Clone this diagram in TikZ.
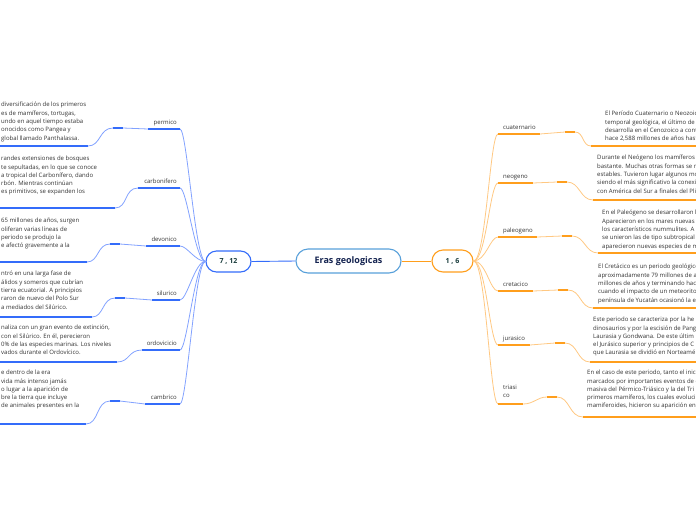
\documentclass[tikz,border=0pt]{standalone}
\usepackage{fontspec}
\setmainfont{Open Sans}
\usetikzlibrary{positioning,shapes.misc,calc}

\definecolor{bluebar}{RGB}{52,108,250}
\definecolor{bluetwig}{RGB}{130,162,255}
\definecolor{orangebar}{RGB}{255,158,28}
\definecolor{orangetwig}{RGB}{255,200,130}
\definecolor{rootline}{RGB}{88,160,218}
\definecolor{inktext}{RGB}{50,50,50}

\begin{document}
\begin{tikzpicture}[x=1pt,y=-1pt,
    era/.style={rounded rectangle, draw, line width=1.1pt, fill=white, inner sep=0pt},
    lbl/.style={font=\fontsize{6}{8}\selectfont, text=inktext, inner sep=0pt},
    txt/.style={font=\fontsize{6}{8.3}\selectfont, text=inktext, align=left, inner sep=0pt, anchor=north west},
    twigB/.style={draw=bluetwig, line width=0.8pt},
    barB/.style={draw=bluebar, line width=1.6pt},
    twigO/.style={draw=orangetwig, line width=0.8pt},
    barO/.style={draw=orangebar, line width=1.6pt}]
  \useasboundingbox (0,0) rectangle (696,520);
  \clip (0,0) rectangle (696,520);

  % the three central nodes
  \node[era, draw=rootline, minimum width=105, minimum height=24,
        font=\fontsize{9}{10}\selectfont\bfseries, text={rgb,255:red,20;green,35;blue,80}]
        (root) at (348.5,261) {Eras geologicas};
  \node[era, draw=bluebar, minimum width=45, minimum height=21,
        font=\fontsize{7}{8}\selectfont\bfseries, text={rgb,255:red,25;green,60;blue,60}]
        (l712) at (228.5,261.5) {7 , 12};
  \node[era, draw=orangebar, minimum width=41, minimum height=22,
        font=\fontsize{7}{8}\selectfont\bfseries, text={rgb,255:red,25;green,60;blue,60}]
        (r16) at (452.5,261) {1 , 6};
  \draw[bluebar, line width=0.9pt] (root.west) -- (l712.east);
  \draw[orangebar, line width=0.9pt] (root.east) -- (r16.east -| r16.west);

  % ---------------- left side ----------------
  % permico
  \coordinate (pe1) at (148,129); \coordinate (pe2) at (180,129);
  \coordinate (pe3) at (123,128); \coordinate (pe4) at (113,128);
  \coordinate (pe5) at (88,146);
  \node[lbl, anchor=base east] (permico) at (177,124) {permico};
  \draw[twigB] (l712.west) .. controls (195,261) and (187,129) .. (pe2);
  \draw[barB] (pe1) -- (pe2);
  \draw[twigB] (pe1) -- (pe3) -- (pe4) .. controls (99,128) and (101,146) .. (pe5);
  \draw[barB] (pe3) -- (pe4);
  \draw[barB] (pe5) -- (-5,146);
  \node[txt] (permicotxt) at (1,102) {diversificación de los primeros\\
    es de mamíferos, tortugas,\\ undo en aquel tiempo estaba\\
    onocidos como Pangea y\\ global llamado Panthalassa.};

  % carbonifero
  \coordinate (ca1) at (138,188); \coordinate (ca2) at (180,188);
  \coordinate (ca5) at (115,208);
  \node[lbl, anchor=base east] (carbonifero) at (177,183) {carbonifero};
  \draw[twigB] (l712.west) .. controls (195,261) and (187,188) .. (ca2);
  \draw[barB] (ca1) -- (ca2);
  \draw[twigB] (ca1) .. controls (124,188) and (128,208) .. (ca5);
  \draw[barB] (ca5) -- (-5,208);
  \node[txt] (carbonifetxt) at (1,156) {randes extensiones de bosques\\
    te sepultadas, en lo que se conoce\\ a tropical del Carbonífero, dando\\
    rbón. Mientras continúan\\ es primitivos, se expanden los};

  % devonico
  \coordinate (de1) at (146,246); \coordinate (de2) at (180,246);
  \coordinate (de3) at (120,244); \coordinate (de4) at (110,244);
  \coordinate (de5) at (87,262);
  \node[lbl, anchor=base east] (devonico) at (177,241) {devonico};
  \draw[twigB] (l712.west) .. controls (195,261) and (187,246) .. (de2);
  \draw[barB] (de1) -- (de2);
  \draw[twigB] (de1) -- (de3) -- (de4) .. controls (97,244) and (99,262) .. (de5);
  \draw[barB] (de3) -- (de4);
  \draw[barB] (de5) -- (-5,262);
  \node[txt] (devonicotxt) at (1,218) {65 millones de años, surgen\\
    oliferan varias líneas de\\ periodo se produjo la\\
    e afectó gravemente a la};

  % silurico
  \coordinate (si1) at (152,300); \coordinate (si2) at (180,300);
  \coordinate (si3) at (125,298); \coordinate (si4) at (115,298);
  \coordinate (si5) at (92,317);
  \node[lbl, anchor=base east] (silurico) at (177,295) {silurico};
  \draw[twigB] (l712.west) .. controls (195,261) and (187,300) .. (si2);
  \draw[barB] (si1) -- (si2);
  \draw[twigB] (si1) -- (si3) -- (si4) .. controls (102,298) and (104,317) .. (si5);
  \draw[barB] (si3) -- (si4);
  \draw[barB] (si5) -- (-5,317);
  \node[txt] (siluricotxt) at (1,271) {ntró en una larga fase de\\
    álidos y someros que cubrían\\ tierra ecuatorial. A principios\\
    raron de nuevo del Polo Sur\\ a mediados del Silúrico.};

  % ordovicicio
  \coordinate (or1) at (142,350); \coordinate (or2) at (180,350);
  \coordinate (or5) at (117,362);
  \node[lbl, anchor=base east] (ordovicicio) at (177,345) {ordovicicio};
  \draw[twigB] (l712.west) .. controls (195,261) and (187,350) .. (or2);
  \draw[barB] (or1) -- (or2);
  \draw[twigB] (or1) .. controls (128,350) and (130,362) .. (or5);
  \draw[barB] (or5) -- (-5,362);
  \node[txt] (ordovicitxt) at (1,325) {naliza con un gran evento de extinción,\\
    con el Silúrico. En él, perecieron\\ 0\% de las especies marinas. Los niveles\\
    vados durante el Ordovícico.};

  % cambrico
  \coordinate (cm1) at (145,404); \coordinate (cm2) at (180,404);
  \coordinate (cm3) at (120,401); \coordinate (cm4) at (110,401);
  \coordinate (cm5) at (86,424);
  \node[lbl, anchor=base east] (cambrico) at (177,399) {cambrico};
  \draw[twigB] (l712.west) .. controls (195,261) and (187,404) .. (cm2);
  \draw[barB] (cm1) -- (cm2);
  \draw[twigB] (cm1) -- (cm3) -- (cm4) .. controls (96,401) and (99,424) .. (cm5);
  \draw[barB] (cm3) -- (cm4);
  \draw[barB] (cm5) -- (-5,424);
  \node[txt] (cambricotxt) at (1,370) {e dentro de la era\\
    vida más intenso jamás\\ o lugar a la aparición de\\
    bre la tierra que incluye\\ de animales presentes en la};

  % ---------------- right side ----------------
  % cuaternario
  \coordinate (cu1) at (498,134); \coordinate (cu2) at (540,134);
  \coordinate (cu3) at (565,132); \coordinate (cu4) at (575,132);
  \coordinate (cu5) at (591,146);
  \node[lbl, anchor=base west] (cuaternario) at (503,129) {cuaternario};
  \draw[twigO] (r16.east) .. controls (486,261) and (490,134) .. (cu1);
  \draw[barO] (cu1) -- (cu2);
  \draw[twigO] (cu2) -- (cu3) -- (cu4) .. controls (584,132) and (582,146) .. (cu5);
  \draw[barO] (cu3) -- (cu4);
  \draw[barO] (cu5) -- (700,146);
  \node[txt] (cuaterntxt) at (605,111) {El Período Cuaternario o Neozoico\\
    temporal geológica, el último de\\ desarrolla en el Cenozoico a cont\\
    hace 2,588 millones de años hast};

  % neogeno
  \coordinate (ne1) at (498,183); \coordinate (ne2) at (533,183);
  \coordinate (ne3) at (557,182); \coordinate (ne4) at (567,182);
  \coordinate (ne5) at (593,200);
  \node[lbl, anchor=base west] (neogeno) at (503,178) {neogeno};
  \draw[twigO] (r16.east) .. controls (486,261) and (490,183) .. (ne1);
  \draw[barO] (ne1) -- (ne2);
  \draw[twigO] (ne2) -- (ne3) -- (ne4) .. controls (580,182) and (580,200) .. (ne5);
  \draw[barO] (ne3) -- (ne4);
  \draw[barO] (ne5) -- (700,200);
  \node[txt] (neogenotxt) at (597,155) {Durante el Neógeno los mamíferos\\
    bastante. Muchas otras formas se m\\ estables. Tuvieron lugar algunos mo\\
    siendo el más significativo la conexi\\ con América del Sur a finales del Pli};

  % paleogeno
  \coordinate (pa1) at (498,237); \coordinate (pa2) at (537,237);
  \coordinate (pa3) at (562,236); \coordinate (pa4) at (572,236);
  \coordinate (pa5) at (598,253);
  \node[lbl, anchor=base west] (paleogeno) at (503,232) {paleogeno};
  \draw[twigO] (r16.east) .. controls (486,261) and (490,237) .. (pa1);
  \draw[barO] (pa1) -- (pa2);
  \draw[twigO] (pa2) -- (pa3) -- (pa4) .. controls (585,236) and (585,253) .. (pa5);
  \draw[barO] (pa3) -- (pa4);
  \draw[barO] (pa5) -- (700,253);
  \node[txt] (paleogentxt) at (602,210) {En el Paleógeno se desarrollaron l\\
    Aparecieron en los mares nuevas\\ los característicos nummulites. A l\\
    se unieron las de tipo subtropical y\\ aparecieron nuevas especies de m};

  % cretacico
  \coordinate (cr1) at (498,291); \coordinate (cr2) at (533,291);
  \coordinate (cr3) at (558,290); \coordinate (cr4) at (568,290);
  \coordinate (cr5) at (593,308);
  \node[lbl, anchor=base west] (cretacico) at (503,286) {cretacico};
  \draw[twigO] (r16.east) .. controls (486,261) and (490,291) .. (cr1);
  \draw[barO] (cr1) -- (cr2);
  \draw[twigO] (cr2) -- (cr3) -- (cr4) .. controls (581,290) and (580,308) .. (cr5);
  \draw[barO] (cr3) -- (cr4);
  \draw[barO] (cr5) -- (700,308);
  \node[txt] (cretacictxt) at (598,264) {El Cretácico es un periodo geológico\\
    aproximadamente 79 millones de a\\ millones de años y terminando hac\\
    cuando el impacto de un meteorito\\ península de Yucatán ocasionó la e};

  % jurasico
  \coordinate (ju1) at (498,345); \coordinate (ju2) at (530,345);
  \coordinate (ju3) at (555,343); \coordinate (ju4) at (565,343);
  \coordinate (ju5) at (590,362);
  \node[lbl, anchor=base west] (jurasico) at (503,340) {jurasico};
  \draw[twigO] (r16.east) .. controls (486,261) and (490,345) .. (ju1);
  \draw[barO] (ju1) -- (ju2);
  \draw[twigO] (ju2) -- (ju3) -- (ju4) .. controls (578,343) and (577,362) .. (ju5);
  \draw[barO] (ju3) -- (ju4);
  \draw[barO] (ju5) -- (700,362);
  \node[txt] (jurasicotxt) at (593,317) {Este periodo se caracteriza por la he\\
    dinosaurios y por la escisión de Pang\\ Laurasia y Gondwana. De este últim\\
    el Jurásico superior y principios de C\\ que Laurasia se dividió en Norteamé};

  % triasico
  \coordinate (tr1) at (498,404); \coordinate (tr2) at (523,404);
  \coordinate (tr3) at (547,397); \coordinate (tr4) at (557,397);
  \coordinate (tr5) at (583,417);
  \node[lbl, align=left, anchor=north west] (triasico) at (503,385) {triasi\\co};
  \draw[twigO] (r16.east) .. controls (486,261) and (490,404) .. (tr1);
  \draw[barO] (tr1) -- (tr2);
  \draw[twigO] (tr2) .. controls (534,404) and (537,397) .. (tr3) -- (tr4)
      .. controls (570,397) and (569,417) .. (tr5);
  \draw[barO] (tr3) -- (tr4);
  \draw[barO] (tr5) -- (700,417);
  \node[txt] (triasicotxt) at (587,370) {En el caso de este periodo, tanto el inici\\
    marcados por importantes eventos de e\\ masiva del Pérmico-Triásico y la del Tri\\
    primeros mamíferos, los cuales evoluci\\ mamiferoides, hicieron su aparición en};
\end{tikzpicture}
\end{document}
